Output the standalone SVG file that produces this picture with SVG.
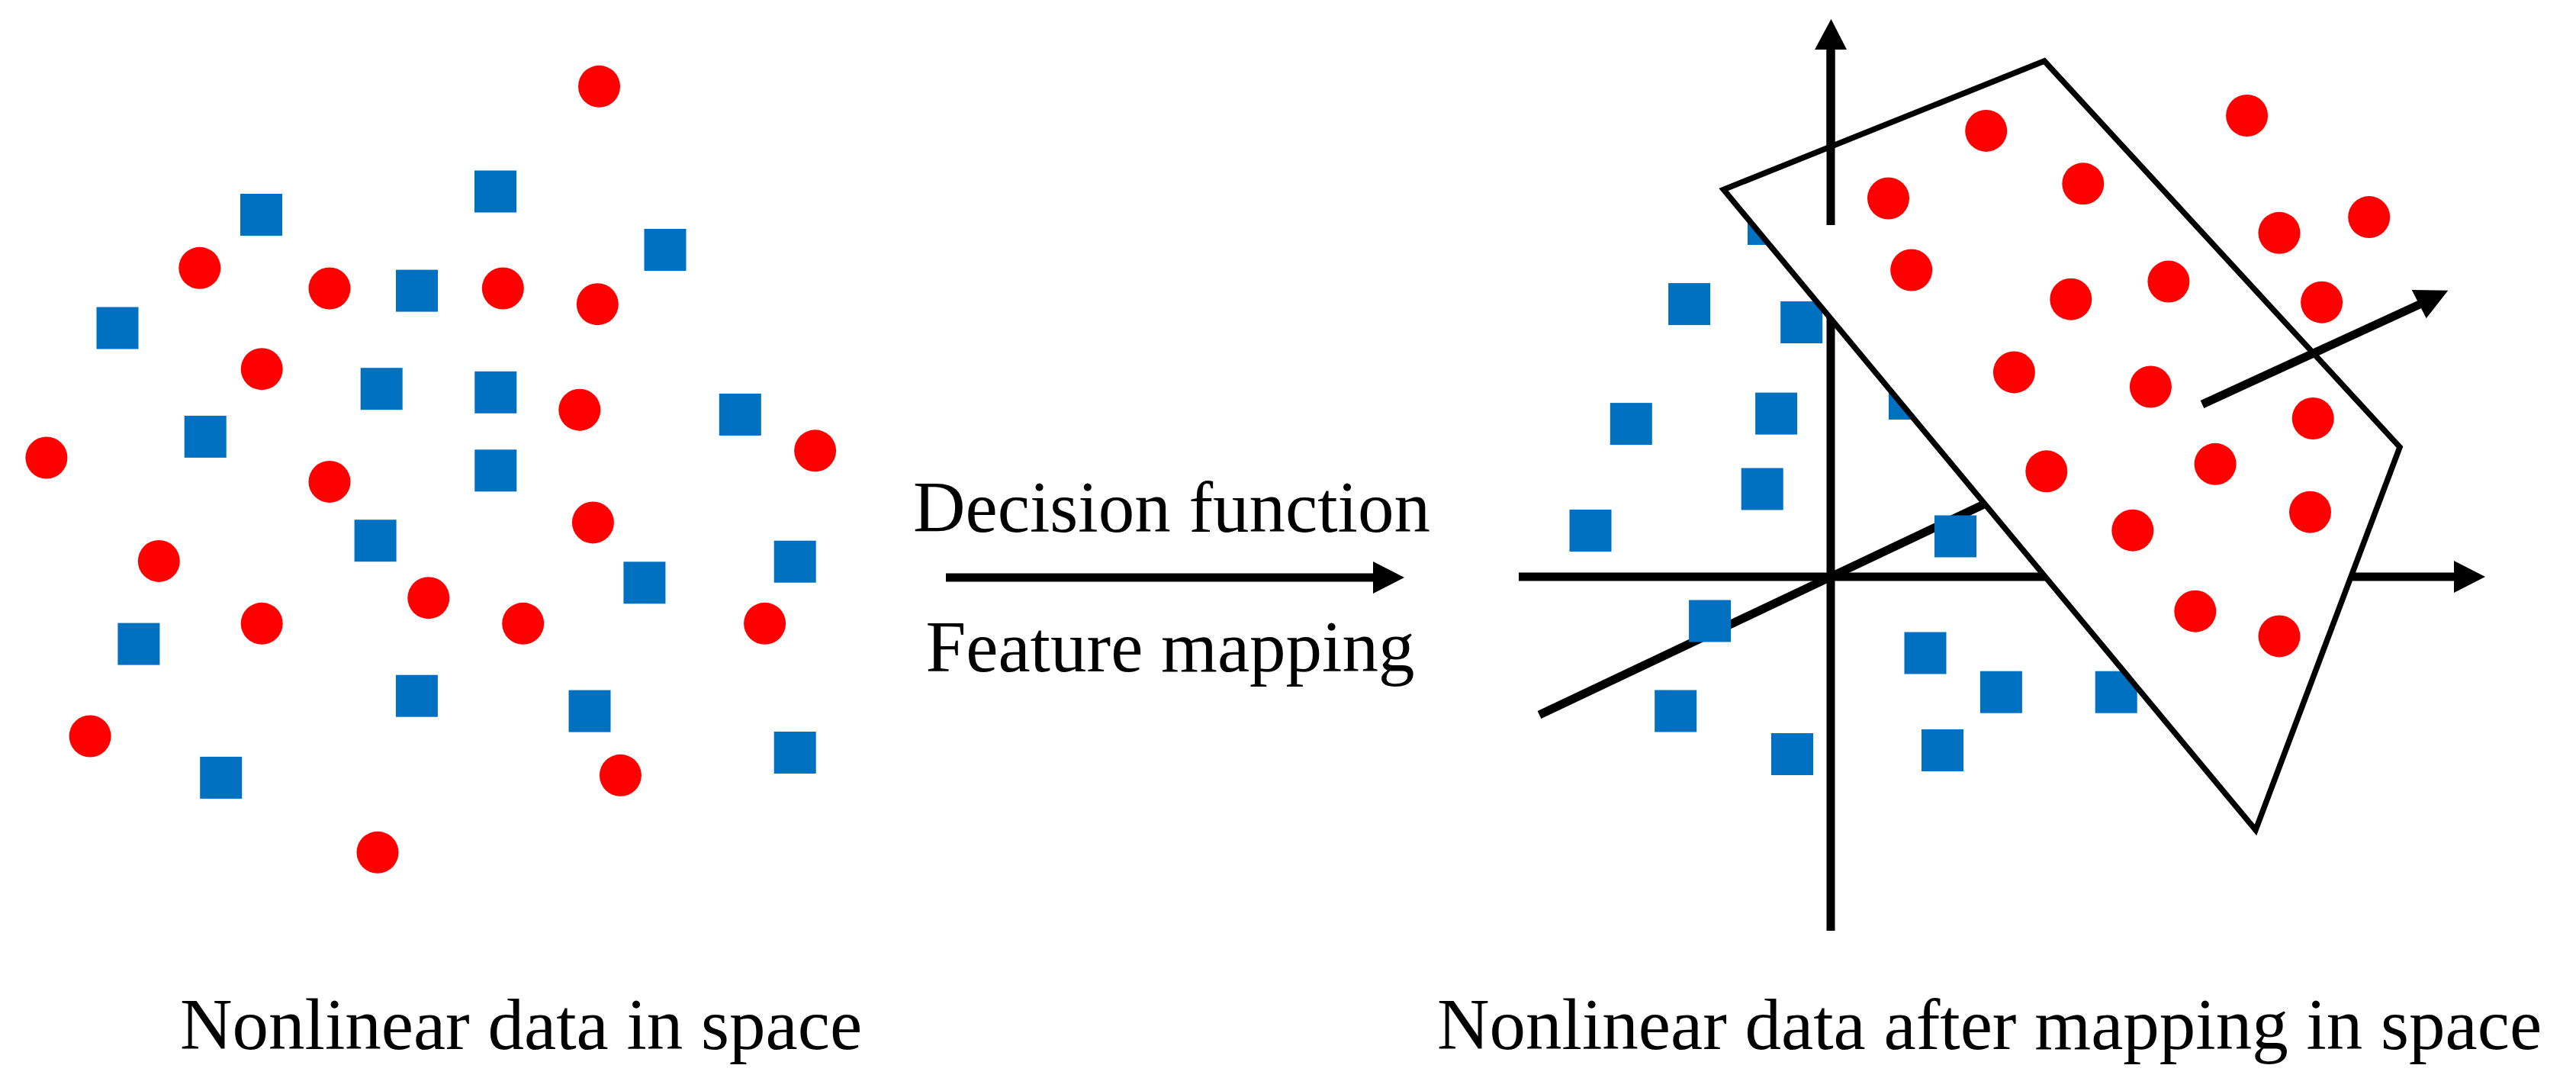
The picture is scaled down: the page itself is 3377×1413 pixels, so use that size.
<svg xmlns="http://www.w3.org/2000/svg" width="3377" height="1413" viewBox="0 0 3377 1413">
<style>
.r{fill:#FF0000}
.b{fill:#0070C0}
.ax{stroke:#000;stroke-width:11;fill:none;stroke-linecap:butt}
.hd{fill:#000;stroke:none}
.pl{fill:#FFFFFF;stroke:#000;stroke-width:7.5;stroke-linejoin:miter}
.t{font-family:"Liberation Serif","Times New Roman",serif;font-size:95px;fill:#000;text-anchor:middle}
</style>
<rect x="0" y="0" width="3377" height="1413" fill="#FFFFFF"/>
<g id="left-space">
<g id="left-circles">
<circle class="r" cx="785.5" cy="113.3" r="27.5"/>
<circle class="r" cx="261.8" cy="351.3" r="27.5"/>
<circle class="r" cx="432" cy="378" r="27.5"/>
<circle class="r" cx="659.3" cy="378" r="27.5"/>
<circle class="r" cx="783.3" cy="398.7" r="27.5"/>
<circle class="r" cx="343.2" cy="483.7" r="27.5"/>
<circle class="r" cx="759.8" cy="537.2" r="27.5"/>
<circle class="r" cx="60.9" cy="600" r="27.5"/>
<circle class="r" cx="1068.6" cy="590.8" r="27.5"/>
<circle class="r" cx="432" cy="631.4" r="27.5"/>
<circle class="r" cx="777.4" cy="684.9" r="27.5"/>
<circle class="r" cx="208.3" cy="735.4" r="27.5"/>
<circle class="r" cx="561.8" cy="783.7" r="27.5"/>
<circle class="r" cx="343.2" cy="817.3" r="27.5"/>
<circle class="r" cx="685.7" cy="817.3" r="27.5"/>
<circle class="r" cx="1002.6" cy="817.3" r="27.5"/>
<circle class="r" cx="118.1" cy="965" r="27.5"/>
<circle class="r" cx="813.4" cy="1016.3" r="27.5"/>
<circle class="r" cx="495" cy="1117.3" r="27.5"/>
</g>
<g id="left-squares">
<rect class="b" x="315" y="254" width="55" height="55"/>
<rect class="b" x="622" y="223.5" width="55" height="55"/>
<rect class="b" x="844.5" y="300" width="55" height="55"/>
<rect class="b" x="126.5" y="402.5" width="55" height="55"/>
<rect class="b" x="519" y="353.6" width="55" height="55"/>
<rect class="b" x="472.7" y="482.2" width="55" height="55"/>
<rect class="b" x="622.3" y="486.8" width="55" height="55"/>
<rect class="b" x="241.7" y="544.9" width="55" height="55"/>
<rect class="b" x="942.8" y="515.9" width="55" height="55"/>
<rect class="b" x="622.3" y="589.3" width="55" height="55"/>
<rect class="b" x="464.6" y="681.2" width="55" height="55"/>
<rect class="b" x="817.4" y="736.3" width="55" height="55"/>
<rect class="b" x="1014.7" y="708.7" width="55" height="55"/>
<rect class="b" x="154.4" y="816.6" width="55" height="55"/>
<rect class="b" x="518.9" y="884.7" width="55" height="55"/>
<rect class="b" x="745.5" y="904.6" width="55" height="55"/>
<rect class="b" x="262.2" y="991.9" width="55" height="55"/>
<rect class="b" x="1014.7" y="959" width="55" height="55"/>
</g>
<text id="left-label" class="t" x="683" y="1375">Nonlinear data in space</text>
</g>
<g id="mapping">
<text id="decision-label" class="t" x="1536" y="697">Decision function</text>
<text id="feature-label" class="t" x="1534" y="880">Feature mapping</text>
</g>
<g id="connectors">
<line class="ax" x1="1240" y1="757" x2="1803" y2="757"/>
<polygon class="hd" points="1800,736 1841,757 1800,778"/>
</g>
<g id="right-space">
<g id="axes">
<line class="ax" x1="1991" y1="756" x2="3220" y2="756"/>
<polygon class="hd" points="3217,735 3258,756 3217,777"/>
<line class="ax" x1="2400" y1="62" x2="2400" y2="1220"/>
<line class="ax" x1="2018" y1="937" x2="2680" y2="623.5"/>
</g>
<g id="right-squares">
<rect class="b" x="2291" y="266" width="55" height="55"/>
<rect class="b" x="2187.1" y="371.1" width="55" height="55"/>
<rect class="b" x="2334.2" y="395" width="55" height="55"/>
<rect class="b" x="2110.8" y="528.1" width="55" height="55"/>
<rect class="b" x="2301.1" y="514.6" width="55" height="55"/>
<rect class="b" x="2476" y="495" width="55" height="55"/>
<rect class="b" x="2282.7" y="613.5" width="55" height="55"/>
<rect class="b" x="2057.5" y="668" width="55" height="55"/>
<rect class="b" x="2536" y="675.5" width="55" height="55"/>
<rect class="b" x="2214.1" y="786.5" width="55" height="55"/>
<rect class="b" x="2496.5" y="828.5" width="55" height="55"/>
<rect class="b" x="2595.9" y="879.7" width="55" height="55"/>
<rect class="b" x="2746.7" y="879.7" width="55" height="55"/>
<rect class="b" x="2169.2" y="904.5" width="55" height="55"/>
<rect class="b" x="2322" y="961" width="55" height="55"/>
<rect class="b" x="2519" y="956" width="55" height="55"/>
</g>
<g id="plane">
<polygon class="pl" points="2259.5,248.5 2680,80 3146,586 2957,1088"/>
</g>
<g id="axis-top">
<line class="ax" x1="2400" y1="62" x2="2400" y2="295"/>
<polygon class="hd" points="2379,65 2400.5,25 2421,65"/>
</g>
<g id="right-circles">
<circle class="r" cx="2603.7" cy="171.4" r="27.5"/>
<circle class="r" cx="2945.6" cy="151.5" r="27.5"/>
<circle class="r" cx="2475.5" cy="260" r="27.5"/>
<circle class="r" cx="2730.8" cy="240.8" r="27.5"/>
<circle class="r" cx="2988" cy="305.3" r="27.5"/>
<circle class="r" cx="3105.7" cy="284.6" r="27.5"/>
<circle class="r" cx="2505.7" cy="354" r="27.5"/>
<circle class="r" cx="2714.8" cy="392.2" r="27.5"/>
<circle class="r" cx="2842.9" cy="369.1" r="27.5"/>
<circle class="r" cx="3043.6" cy="396.2" r="27.5"/>
<circle class="r" cx="2640.4" cy="487.9" r="27.5"/>
<circle class="r" cx="2819.4" cy="507" r="27.5"/>
<circle class="r" cx="3032.2" cy="548.5" r="27.5"/>
<circle class="r" cx="2682.8" cy="617.8" r="27.5"/>
<circle class="r" cx="2904.1" cy="608.3" r="27.5"/>
<circle class="r" cx="3028.5" cy="671.2" r="27.5"/>
<circle class="r" cx="2795.8" cy="695.2" r="27.5"/>
<circle class="r" cx="2877.8" cy="801.2" r="27.5"/>
<circle class="r" cx="2988" cy="833.9" r="27.5"/>
</g>
<g id="normal-vector">
<line class="ax" x1="2887" y1="530" x2="3172" y2="399"/>
<polygon class="hd" points="3161.7,380 3209.3,380.7 3180.7,417.3"/>
</g>
<text id="right-label" class="t" x="2608" y="1375">Nonlinear data after mapping in space</text>
</g>
</svg>
